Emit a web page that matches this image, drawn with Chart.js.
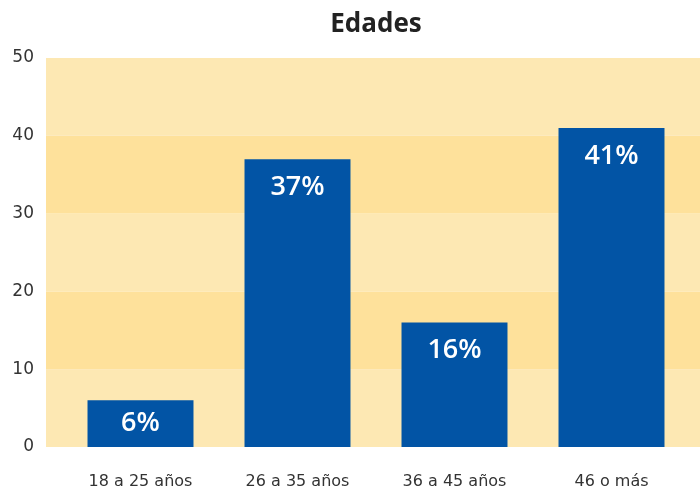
<html>
<head>
	<meta charset="utf-8">
	<script src="https://cdn.jsdelivr.net/npm/chart.js@4/dist/chart.umd.min.js"></script>
	<style>
		body { margin: 0; background: #ffffff; }
		#wrap { width: 700px; height: 492px; }
	</style>
</head>
<body>
	<div id="wrap"><canvas id="bar-chart"></canvas></div>
	<script>
	var categories = ['18 a 25 años', '26 a 35 años', '36 a 45 años', '46 o más'];
	var valores = [6, 37, 16, 41];
	var titulo = 'Edades';

	// fondo a franjas + titulo
	var bandas = {
		id: 'bandas',
		beforeDatasetsDraw: function(chart) {
			var ctx = chart.ctx;
			var y = chart.scales.y;
			var area = chart.chartArea;
			var x0 = area.left - 16;
			ctx.save();
			for (var v = 0; v < 50; v += 10) {
				var top = y.getPixelForValue(v + 10);
				var bot = y.getPixelForValue(v);
				ctx.fillStyle = (v / 10) % 2 == 0 ? '#fde8b3' : '#fee19b';
				ctx.fillRect(x0, top, chart.width - x0, bot - top);
			}
			ctx.restore();
		},
		afterDraw: function(chart) {
			var ctx = chart.ctx;
			var area = chart.chartArea;
			ctx.save();
			ctx.fillStyle = '#222222';
			ctx.font = 'bold 26px "Open Sans"';
			ctx.textAlign = 'center';
			ctx.textBaseline = 'middle';
			ctx.fillText(titulo, (area.left + area.right) / 2, 25);
			ctx.restore();
		},
		afterDatasetsDraw: function(chart) {
			var ctx = chart.ctx;
			var meta = chart.getDatasetMeta(0);
			ctx.save();
			ctx.fillStyle = '#ffffff';
			ctx.font = '600 27px "Open Sans"';
			ctx.textAlign = 'center';
			ctx.textBaseline = 'middle';
			meta.data.forEach(function(bar, i) {
				var off = Math.min(28, (bar.base - bar.y) / 2);
				ctx.fillText(valores[i] + '%', bar.x, bar.y + off);
			});
			ctx.restore();
		}
	};

	var ctx = document.getElementById('bar-chart').getContext('2d');
	var chart = new Chart(ctx, {
		type: 'bar',
		data: {
			labels: categories,
			datasets: [{
				data: valores,
				backgroundColor: '#0254a5',
				borderWidth: 0,
				barPercentage: 0.675,
				categoryPercentage: 1
			}]
		},
		options: {
			responsive: true,
			maintainAspectRatio: false,
			animation: false,
			layout: { padding: { top: 58, right: 10, bottom: 0, left: 0 } },
			plugins: {
				legend: { display: false },
				tooltip: { enabled: false },
				title: { display: false }
			},
			scales: {
				x: {
					grid: { display: false },
					border: { display: false },
					afterFit: function(scale) { scale.height = 45; },
					ticks: { color: '#333333', font: { family: 'DejaVu Sans', size: 16 }, padding: 17, maxRotation: 0 }
				},
				y: {
					min: 0,
					max: 50,
					grid: { display: false },
					border: { display: false },
					afterFit: function(scale) { scale.width = 62; },
					ticks: { stepSize: 10, color: '#333333', font: { family: 'DejaVu Sans', size: 17 }, padding: 20 }
				}
			}
		},
		plugins: [bandas]
	});
	</script>
</body>
</html>
